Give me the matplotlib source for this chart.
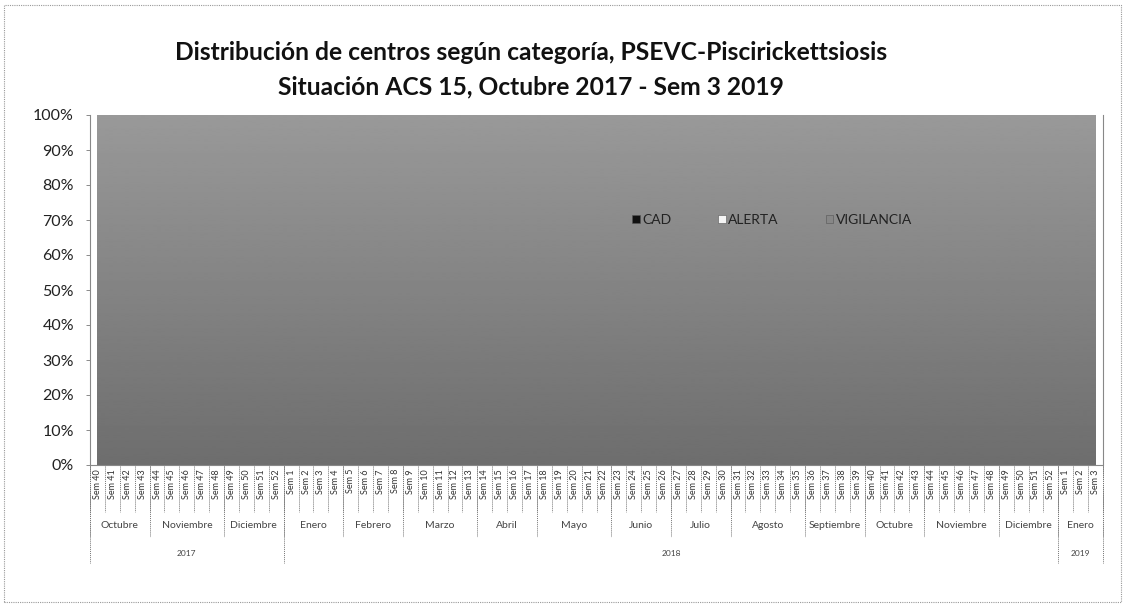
import matplotlib
matplotlib.use("Agg")
import matplotlib.pyplot as plt
import numpy as np
from matplotlib.patches import Rectangle
from matplotlib.lines import Line2D

weeks = ["Sem 40", "Sem 41", "Sem 42", "Sem 43", "Sem 44", "Sem 45", "Sem 46", "Sem 47", "Sem 48",
         "Sem 49", "Sem 50", "Sem 51", "Sem 52",
         "Sem 1", "Sem 2", "Sem 3", "Sem 4", "Sem 5", "Sem 6", "Sem 7", "Sem 8", "Sem 9", "Sem 10",
         "Sem 11", "Sem 12", "Sem 13", "Sem 14", "Sem 15", "Sem 16", "Sem 17", "Sem 18", "Sem 19",
         "Sem 20", "Sem 21", "Sem 22", "Sem 23", "Sem 24", "Sem 25", "Sem 26", "Sem 27", "Sem 28",
         "Sem 29", "Sem 30", "Sem 31", "Sem 32", "Sem 33", "Sem 34", "Sem 35", "Sem 36", "Sem 37",
         "Sem 38", "Sem 39", "Sem 40", "Sem 41", "Sem 42", "Sem 43", "Sem 44", "Sem 45", "Sem 46",
         "Sem 47", "Sem 48", "Sem 49", "Sem 50", "Sem 51", "Sem 52",
         "Sem 1", "Sem 2", "Sem 3"]

months = ["Octubre", "Noviembre", "Diciembre", "Enero", "Febrero", "Marzo", "Abril", "Mayo",
          "Junio", "Julio", "Agosto", "Septiembre", "Octubre", "Noviembre", "Diciembre", "Enero"]
month_weeks = [4, 5, 4, 4, 4, 5, 4, 5, 4, 4, 5, 4, 4, 5, 4, 3]

years = ["2017", "2018", "2019"]
year_weeks = [13, 52, 3]

cad = [0, 0, 0, 0, 0, 0, 0, 0, 0, 0, 0, 0, 0, 0, 0, 0, 0, 0, 0, 0, 0, 0, 0, 0, 0, 0, 0, 0, 0, 0,
       0, 0, 0, 0, 0, 0, 0, 0, 0, 0, 0, 0, 0, 0, 0, 0, 0, 0, 0, 0, 0, 0, 0, 0, 0, 0, 0, 0, 0, 0,
       0, 0, 0, 0, 0, 0, 0, 0]
alerta = [0, 0, 0, 0, 0, 0, 0, 0, 0, 0, 0, 0, 0, 0, 0, 0, 0, 0, 0, 0, 0, 0, 0, 0, 0, 0, 0, 0, 0, 0,
          0, 0, 0, 0, 0, 0, 0, 0, 0, 0, 0, 0, 0, 0, 0, 0, 0, 0, 0, 0, 0, 0, 0, 0, 0, 0, 0, 0, 0, 0,
          0, 0, 0, 0, 0, 0, 0, 0]
vigilancia = [100, 100, 100, 100, 100, 100, 100, 100, 100, 100, 100, 100, 100, 100, 100, 100, 100,
              100, 100, 100, 100, 100, 100, 100, 100, 100, 100, 100, 100, 100, 100, 100, 100, 100,
              100, 100, 100, 100, 100, 100, 100, 100, 100, 100, 100, 100, 100, 100, 100, 100, 100,
              100, 100, 100, 100, 100, 100, 100, 100, 100, 100, 100, 100, 100, 100, 100, 100, 100]

series_names = ["CAD", "ALERTA", "VIGILANCIA"]
series_colors = ["#111111", "#f4f4f4", "#878787"]

plt.rcParams['font.family'] = ['Lato', 'DejaVu Sans']

W, H = 1126, 610
fig = plt.figure(figsize=(W / 100, H / 100), dpi=100)

# plot area in pixels
L, R, T, B = 90, 1103, 115, 465
ax = fig.add_axes([L / W, 1 - B / H, (R - L) / W, (B - T) / H])

n = len(weeks)
x = list(range(n))
totals = [c + a + v for c, a, v in zip(cad, alerta, vigilancia)]
cad_p = [100 * c / t for c, t in zip(cad, totals)]
ale_p = [100 * a / t for a, t in zip(alerta, totals)]
vig_p = [100 * v / t for v, t in zip(vigilancia, totals)]

polys = ax.stackplot(x, cad_p, ale_p, vig_p, colors=series_colors, linewidth=0)

# scanned look: slightly lighter at top, darker at bottom, clipped to VIGILANCIA area
grad = np.linspace(0.43, 0.60, 256).reshape(-1, 1)
im = ax.imshow(grad, extent=[-0.5, n - 0.5, 0, 100], origin="lower", aspect="auto", cmap="gray",
               vmin=0, vmax=1, zorder=polys[2].get_zorder() + 0.1, interpolation="bilinear")
im.set_clip_path(polys[2].get_paths()[0], transform=ax.transData)
ax.set_xlim(-0.5, n - 0.5)
ax.set_ylim(0, 100)

ax.set_yticks(range(0, 101, 10))
ax.set_yticklabels([f"{v}%" for v in range(0, 101, 10)], fontsize=11.5, color="#222222")
ax.tick_params(axis="y", length=3, width=0.6, color="#777777", pad=8.5)
ax.set_xticks([])

for side in ["top", "right", "bottom", "left"]:
    ax.spines[side].set_linestyle((0, (1, 1)))
    ax.spines[side].set_color("#888888")
    ax.spines[side].set_linewidth(0.8)
ax.spines["top"].set_visible(False)

# Multi-level category axis
tr = ax.get_xaxis_transform()
ph = B - T


def fy(py):
    return (B - py) / ph


sep_style = dict(color="#777777", linewidth=0.7, linestyle=(0, (1, 1)), clip_on=False, transform=tr)

for i, w in enumerate(weeks):
    ax.text(i, fy(469), w, rotation=90, ha="center", va="top", fontsize=6.5,
            color="#333333", transform=tr, clip_on=False)
for i in range(n + 1):
    ax.add_line(Line2D([i - 0.5, i - 0.5], [0, fy(512)], **sep_style))

start = 0
for m, k in zip(months, month_weeks):
    ax.text(start + k / 2 - 0.5, fy(526), m, ha="center", va="center", fontsize=7.5,
            color="#444444", transform=tr, clip_on=False)
    ax.add_line(Line2D([start - 0.5, start - 0.5], [0, fy(537)], **sep_style))
    start += k
ax.add_line(Line2D([start - 0.5, start - 0.5], [0, fy(537)], **sep_style))

start = 0
for yname, k in zip(years, year_weeks):
    ax.text(start + k / 2 - 0.5, fy(553), yname, ha="center", va="center", fontsize=6,
            color="#444444", transform=tr, clip_on=False)
    ax.add_line(Line2D([start - 0.5, start - 0.5], [0, fy(563)], **sep_style))
    start += k
ax.add_line(Line2D([start - 0.5, start - 0.5], [0, fy(563)], **sep_style))

# Legend
handles = [Rectangle((0, 0), 1, 1, facecolor=c, edgecolor="#555555", linewidth=0.4)
           for c in series_colors]
leg = ax.legend(handles, series_names, loc="center", bbox_to_anchor=((772 - L) / (R - L), fy(220)),
                ncol=3, frameon=False, fontsize=10, handlelength=0.55, handleheight=0.55,
                handletextpad=0.15, columnspacing=3.4)
leg.set_zorder(10)
for t in leg.get_texts():
    t.set_color("#222222")

# Title
fig.text(531 / W, 1 - 53 / H, "Distribución de centros según categoría, PSEVC-Piscirickettsiosis",
         ha="center", va="center", fontsize=17.7, fontweight="bold", color="#111111")
fig.text(531 / W, 1 - 87 / H, "Situación ACS 15, Octubre 2017 - Sem 3 2019",
         ha="center", va="center", fontsize=17.7, fontweight="bold", color="#111111")

# Outer border
fig.add_artist(Rectangle((4 / W, 1 - 602 / H), (1121 - 4) / W, (602 - 5) / H, transform=fig.transFigure,
                         fill=False, edgecolor="#999999", linewidth=0.8, linestyle=(0, (1, 1))))

fig.savefig("out.png", dpi=100)
